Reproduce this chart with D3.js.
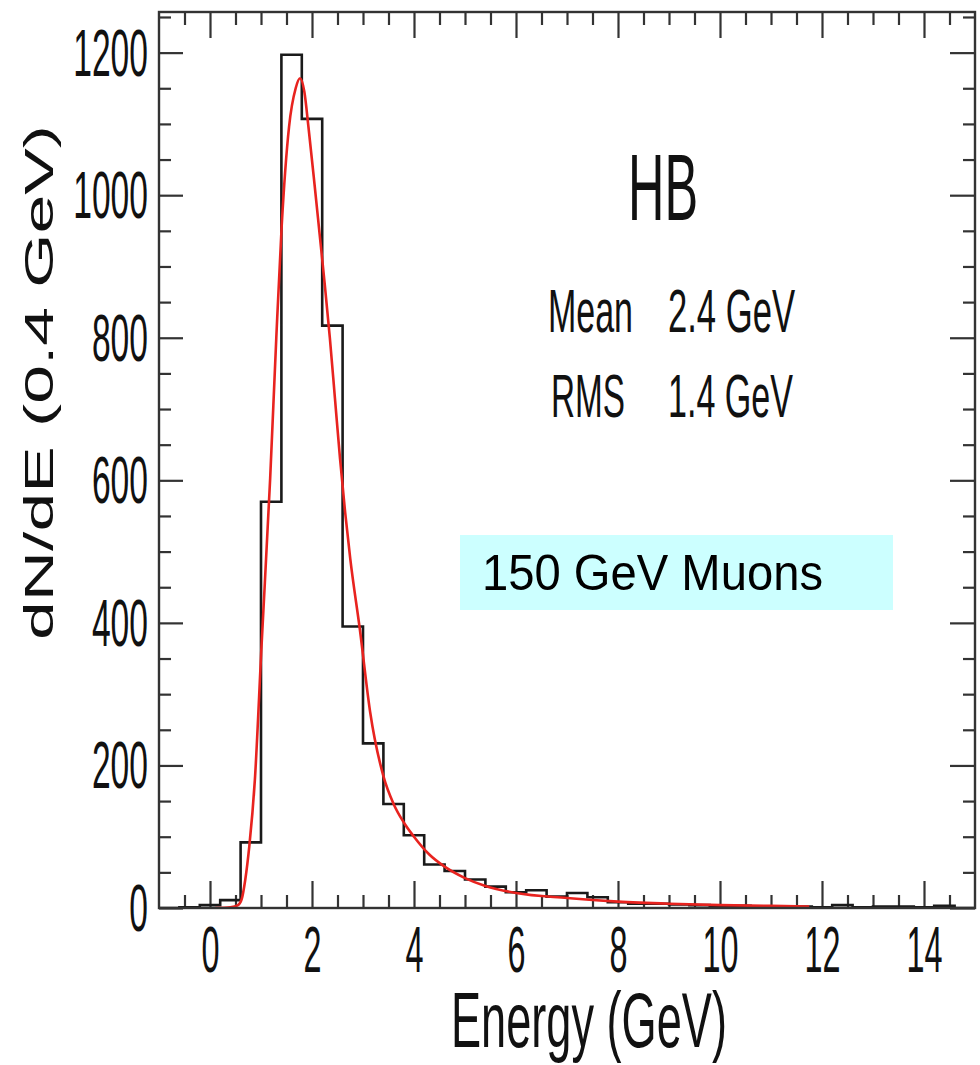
<!DOCTYPE html>
<html>
<head>
<meta charset="utf-8">
<script src="https://cdn.jsdelivr.net/npm/d3@7"></script>
<style>
  html, body { margin: 0; padding: 0; background: #fff; }
  svg { display: block; }
  text { font-family: "Liberation Sans", Arial, Helvetica, sans-serif; fill: #111; }
</style>
</head>
<body>
<svg id="chart" width="980" height="1065"></svg>
<script>
// ---------- data ----------
const binEdges = [-1.0,-0.6,-0.2,0.2,0.6,1.0,1.4,1.8,2.2,2.6,3.0,3.4,3.8,4.2,4.6,5.0,5.4,5.8,6.2,6.6,
                  7.0,7.4,7.8,8.2,8.6,9.0,9.4,9.8,10.2,10.6,11.0,11.4,11.8,12.2,12.6,13.0,13.4,13.8,14.2,14.6,15.0];
const counts = [0,1,4,11,92,570,1197,1107,817,395,231,146,102,61,52,40,30,22,25,16,
                21,15,8,6,6,5,4,3,3,0,2,2,1,4,1,2,2,1,3,0];
const fitX = [0.10,0.40,0.55,0.62,0.69,0.77,0.88,1.01,1.18,1.30,1.405,1.55,1.68,1.765,1.85,1.93,2.05,2.15,2.25,2.35,
              2.45,2.55,2.65,2.75,2.94,3.14,3.40,3.60,3.80,4.00,4.30,4.60,5.00,5.40,6.00,7.00,8.00,9.00,10.00,11.00,11.75];
const fitY = [0,1,4,12,39,86,180,367,603,800,956,1096,1150,1164,1145,1096,1015,945,875,800,
              715,630,555,490,390,275,185,146,120,100,75,58,42,31,21,14,9,6,4,3,2];
const xMajorTicks = [0,2,4,6,8,10,12,14];
const yMajorTicks = [0,200,400,600,800,1000,1200];
const xTitle = "Energy (GeV)";
const yTitle = "dN/dE (0.4 GeV)";
const boxLabel = "150 GeV Muons";
const statNames = ["Mean","RMS"];
const statValues = ["2.4 GeV","1.4 GeV"];
const detector = "HB";

// ---------- layout ----------
const L = 159, R = 975, T = 12, B = 908;
const svg = d3.select("#chart");
const x = d3.scaleLinear().domain([-1, 15]).range([L, R]);
const y = d3.scaleLinear().domain([0, 1257]).range([B, T]);

const xMinor = d3.range(-0.5, 15, 0.5).filter(v => Math.abs(v/2 - Math.round(v/2)) > 1e-6);
const yMinor = d3.range(50, 1257, 50).filter(v => v % 200 !== 0);

const axisColor = "#333";

// place a text of given font size and squeeze it horizontally to a target width
function fitText(sel, target){
  sel.each(function(){
    const w = this.getComputedTextLength();
    const sx = target(this) / w;
    const base = d3.select(this).attr("data-base") || "";
    d3.select(this).attr("transform", `${base} scale(${sx},1)`);
    this.__sx = sx;
  });
}

// clip
svg.append("clipPath").attr("id","clip").append("rect")
  .attr("x", L).attr("y", T).attr("width", R-L).attr("height", B-T);

function styleAxis(g){
  g.select(".domain").remove();
  g.selectAll(".tick line").attr("stroke", axisColor).attr("stroke-width", 2.2);
}

// bottom axis major
const gb = svg.append("g").attr("transform", `translate(0,${B})`)
  .call(d3.axisBottom(x).tickValues(xMajorTicks).tickSize(-27).tickPadding(19).tickFormat(d3.format("d")));
styleAxis(gb);
gb.selectAll(".tick text")
  .attr("font-size", 64)
  .style("fill", "#111")
  .call(fitText, n => n.textContent.length * 18);
svg.append("g").attr("transform", `translate(0,${B})`)
  .call(d3.axisBottom(x).tickValues(xMinor).tickSize(-13).tickFormat(""))
  .call(styleAxis);

// top axis
svg.append("g").attr("transform", `translate(0,${T})`)
  .call(d3.axisTop(x).tickValues(xMajorTicks).tickSize(-26).tickFormat(""))
  .call(styleAxis);
svg.append("g").attr("transform", `translate(0,${T})`)
  .call(d3.axisTop(x).tickValues(xMinor).tickSize(-13).tickFormat(""))
  .call(styleAxis);

// left axis
const gl = svg.append("g").attr("transform", `translate(${L},0)`)
  .call(d3.axisLeft(y).tickValues(yMajorTicks).tickSize(-24).tickPadding(11).tickFormat(d3.format("d")));
styleAxis(gl);
gl.selectAll(".tick text")
  .attr("font-size", 66)
  .attr("dy", "0.34em")
  .style("fill", "#111")
  .call(fitText, n => n.textContent.length * 18.7)
  .each(function(){ d3.select(this).attr("x", -11 / this.__sx); });
svg.append("g").attr("transform", `translate(${L},0)`)
  .call(d3.axisLeft(y).tickValues(yMinor).tickSize(-12).tickFormat(""))
  .call(styleAxis);

// right axis
svg.append("g").attr("transform", `translate(${R},0)`)
  .call(d3.axisRight(y).tickValues(yMajorTicks).tickSize(-25).tickFormat(""))
  .call(styleAxis);
svg.append("g").attr("transform", `translate(${R},0)`)
  .call(d3.axisRight(y).tickValues(yMinor).tickSize(-12).tickFormat(""))
  .call(styleAxis);

// histogram
const histPts = counts.map((c,i) => [binEdges[i], c]);
histPts.push([binEdges[binEdges.length-1], counts[counts.length-1]]);
svg.append("path")
  .datum(histPts)
  .attr("clip-path", "url(#clip)")
  .attr("fill", "none")
  .attr("stroke", "#1a1a1a")
  .attr("stroke-width", 2.6)
  .attr("d", d3.line().x(d => x(d[0])).y(d => y(d[1])).curve(d3.curveStepAfter));

// fit curve
const fitPts = fitX.map((v,i) => [v, fitY[i]]);
svg.append("path")
  .datum(fitPts)
  .attr("clip-path", "url(#clip)")
  .attr("fill", "none")
  .attr("stroke", "#e8231f")
  .attr("stroke-width", 2.6)
  .attr("d", d3.line().x(d => x(d[0])).y(d => y(d[1])).curve(d3.curveMonotoneX));

// frame
svg.append("rect")
  .attr("x", L).attr("y", T).attr("width", R-L).attr("height", B-T)
  .attr("fill", "none").attr("stroke", axisColor).attr("stroke-width", 2.4);

// generic squeezed text
function label(txt, xPos, yPos, size, width, extra){
  const t = svg.append("text")
    .attr("data-base", `translate(${xPos},${yPos}) ${extra || ""}`)
    .attr("font-size", size)
    .text(txt);
  t.call(fitText, () => width);
  return t;
}

// axis titles
label(xTitle, 451, 1047, 78, 276);
label(yTitle, 53, 640, 40, 515, "rotate(-90)");

// annotations
label(detector, 628, 220, 95, 70);
const statY = [332, 417];
const nameX = [548, 551];
const nameLen = [85, 74];
const valLen = [127, 125];
statNames.forEach((n,i) => {
  label(n, nameX[i], statY[i], 61, nameLen[i]);
  label(statValues[i], 668, statY[i], 61, valLen[i]);
});

// cyan box
svg.append("rect")
  .attr("x", 460).attr("y", 535).attr("width", 433).attr("height", 75)
  .attr("fill", "#ccffff");
label(boxLabel, 482, 590, 50, 341).style("fill", "#000");
</script>
</body>
</html>
